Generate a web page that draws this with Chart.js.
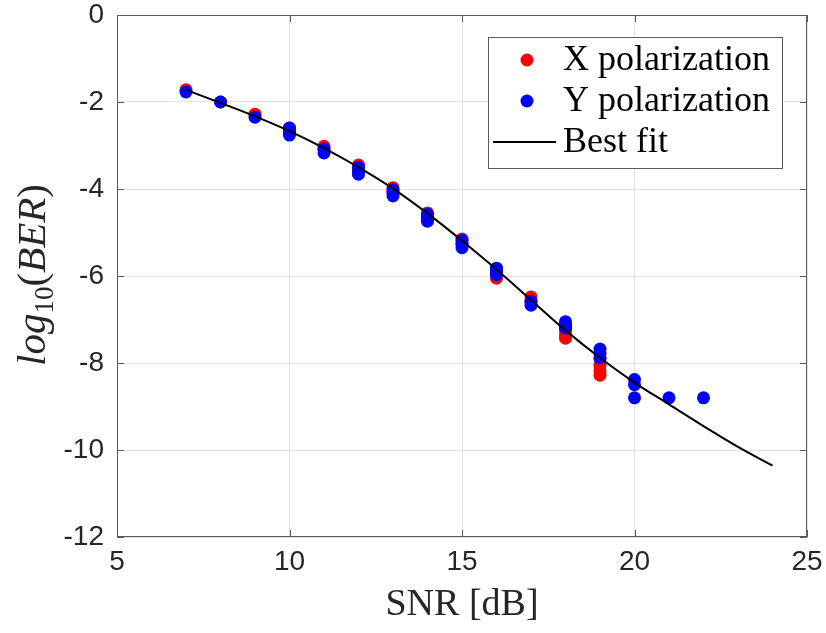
<!DOCTYPE html>
<html>
<head>
<meta charset="utf-8">
<script src="https://cdn.jsdelivr.net/npm/chart.js@4"></script>
<style>
  html, body { margin: 0; padding: 0; background: #fff; }
</style>
</head>
<body>
<canvas id="berChart" width="826" height="633"></canvas>
<script>
// X polarization measurements
const snrX = [7, 8, 9, 10, 10, 11, 11, 12, 12, 13, 13, 14, 14, 15, 15, 16, 16, 17, 17, 18, 18, 18, 19, 19, 19, 19];
const berX = [-1.72, -2.0, -2.28, -2.6, -2.7, -3.02, -3.1, -3.45, -3.55, -3.97, -4.05, -4.55, -4.62, -5.15, -5.25, -5.95, -6.05, -6.48, -6.58, -7.25, -7.35, -7.43, -7.9, -8.05, -8.18, -8.28];

// Y polarization measurements
const snrY = [7, 8, 9, 10, 10, 10, 11, 11, 12, 12, 12, 13, 13, 13, 14, 14, 14, 15, 15, 15, 16, 16, 16, 17, 17, 18, 18, 18, 19, 19, 19, 20, 20, 20, 21, 22];
const berY = [-1.77, -2.0, -2.35, -2.6, -2.68, -2.76, -3.08, -3.17, -3.5, -3.6, -3.66, -4.02, -4.1, -4.16, -4.58, -4.67, -4.74, -5.18, -5.27, -5.35, -5.82, -5.9, -5.97, -6.58, -6.67, -7.05, -7.13, -7.2, -7.68, -7.78, -7.88, -8.38, -8.5, -8.8, -8.8, -8.8];

// best fit curve
const fitSnr = [7, 8, 9, 10, 11, 12, 13, 14, 15, 16, 17, 18, 19, 20, 21, 22, 23, 24];
const fitBer = [-1.72, -2.02, -2.33, -2.67, -3.06, -3.5, -3.99, -4.56, -5.19, -5.85, -6.55, -7.25, -7.88, -8.45, -8.95, -9.45, -9.93, -10.36];

const xTicks = [5, 10, 15, 20, 25];
const yTicks = [0, -2, -4, -6, -8, -10, -12];

const legendLabels = ["X polarization", "Y polarization", "Best fit"];

const toPoints = (xs, ys) => xs.map((x, i) => ({ x: x, y: ys[i] }));

const axisColor = "#262626";
const serif = "'Liberation Serif', 'Times New Roman', serif";

// box, inward ticks (MATLAB style)
const framePlugin = {
  id: "frame",
  beforeDatasetsDraw(chart) {
    const { ctx, chartArea: a, scales } = chart;
    ctx.save();
    ctx.strokeStyle = "#5a5a5a";
    ctx.lineWidth = 1;
    ctx.strokeRect(a.left + 0.5, a.top + 0.5, a.right - a.left - 1, a.bottom - a.top - 1);
    ctx.beginPath();
    xTicks.forEach((v) => {
      const px = Math.round(scales.x.getPixelForValue(v)) + 0.5;
      ctx.moveTo(px, a.bottom); ctx.lineTo(px, a.bottom - 7);
      ctx.moveTo(px, a.top); ctx.lineTo(px, a.top + 7);
    });
    yTicks.forEach((v) => {
      const py = Math.round(scales.y.getPixelForValue(v)) + 0.5;
      ctx.moveTo(a.left, py); ctx.lineTo(a.left + 7, py);
      ctx.moveTo(a.right, py); ctx.lineTo(a.right - 7, py);
    });
    ctx.stroke();
    ctx.restore();
  },
};

// y axis title with subscript: log10(BER)
const yTitlePlugin = {
  id: "yTitle",
  afterDraw(chart) {
    const ctx = chart.ctx;
    const big = 41, small = 27;
    const parts = [
      { t: "log", f: "italic " + big + "px " + serif, dy: 0 },
      { t: "10", f: small + "px " + serif, dy: 8 },
      { t: "(", f: big + "px " + serif, dy: 0 },
      { t: "BER", f: "italic " + big + "px " + serif, dy: 0 },
      { t: ")", f: big + "px " + serif, dy: 0 },
    ];
    ctx.save();
    let total = 0;
    parts.forEach((p) => { ctx.font = p.f; p.w = ctx.measureText(p.t).width; total += p.w; });
    ctx.translate(45, 275);
    ctx.rotate(-Math.PI / 2);
    ctx.fillStyle = axisColor;
    ctx.textBaseline = "alphabetic";
    let x = -total / 2;
    parts.forEach((p) => {
      ctx.font = p.f;
      ctx.fillText(p.t, x, p.dy);
      x += p.w;
    });
    ctx.restore();
  },
};

// boxed legend in the upper right corner
const legendPlugin = {
  id: "boxLegend",
  afterDraw(chart) {
    const ctx = chart.ctx;
    const colors = ["#ff0000", "#0000ff", "#000000"];
    ctx.save();
    ctx.fillStyle = "#fff";
    ctx.fillRect(488, 37, 294, 131);
    ctx.strokeStyle = "#5a5a5a";
    ctx.lineWidth = 1;
    ctx.strokeRect(488.5, 37.5, 294, 131);
    ctx.font = "36px " + serif;
    ctx.textBaseline = "middle";
    legendLabels.forEach((label, i) => {
      const cy = 60 + i * 41;
      if (i < 2) {
        ctx.fillStyle = colors[i];
        ctx.beginPath();
        ctx.arc(527, cy, 6.5, 0, Math.PI * 2);
        ctx.fill();
      } else {
        ctx.strokeStyle = colors[i];
        ctx.lineWidth = 2;
        ctx.beginPath();
        ctx.moveTo(493, cy);
        ctx.lineTo(556, cy);
        ctx.stroke();
      }
      ctx.fillStyle = "#000";
      ctx.fillText(label, 563, cy + 1);
    });
    ctx.restore();
  },
};

const ctx = document.getElementById("berChart").getContext("2d");
new Chart(ctx, {
  type: "scatter",
  data: {
    datasets: [
      {
        type: "line",
        label: "Best fit",
        data: toPoints(fitSnr, fitBer),
        borderColor: "#000",
        borderWidth: 2,
        pointRadius: 0,
        tension: 0.4,
        fill: false,
        order: 0,
      },
      {
        label: "Y polarization",
        data: toPoints(snrY, berY),
        backgroundColor: "#0000ff",
        borderWidth: 0,
        pointRadius: 6.5,
        order: 1,
      },
      {
        label: "X polarization",
        data: toPoints(snrX, berX),
        backgroundColor: "#ff0000",
        borderWidth: 0,
        pointRadius: 6.5,
        order: 2,
      },
    ],
  },
  options: {
    responsive: false,
    animation: false,
    layout: { padding: { top: 15, right: 19, left: 0, bottom: 0 } },
    plugins: {
      legend: { display: false },
      tooltip: { enabled: false },
    },
    scales: {
      x: {
        type: "linear",
        min: 5,
        max: 25,
        afterFit: (scale) => {
          scale.height = 96;
          scale.paddingLeft = 0;
          scale.paddingRight = 0;
        },
        afterBuildTicks: (scale) => { scale.ticks = xTicks.map((v) => ({ value: v })); },
        grid: { color: "#e3e3e3", drawTicks: false },
        border: { display: false },
        ticks: {
          color: axisColor,
          padding: 8,
          font: { family: "'Liberation Sans', Arial, sans-serif", size: 28 },
        },
        title: {
          display: true,
          text: "SNR [dB]",
          color: axisColor,
          font: { family: serif, size: 38 },
          padding: { top: 0, bottom: 5 },
        },
      },
      y: {
        type: "linear",
        min: -12,
        max: 0,
        afterFit: (scale) => {
          scale.width = 117;
          scale.paddingTop = 0;
          scale.paddingBottom = 0;
        },
        afterBuildTicks: (scale) => { scale.ticks = yTicks.map((v) => ({ value: v })); },
        grid: { color: "#e3e3e3", drawTicks: false },
        border: { display: false },
        ticks: {
          color: axisColor,
          padding: 13,
          font: { family: "'Liberation Sans', Arial, sans-serif", size: 28 },
        },
      },
    },
  },
  plugins: [framePlugin, yTitlePlugin, legendPlugin],
});
</script>
</body>
</html>
